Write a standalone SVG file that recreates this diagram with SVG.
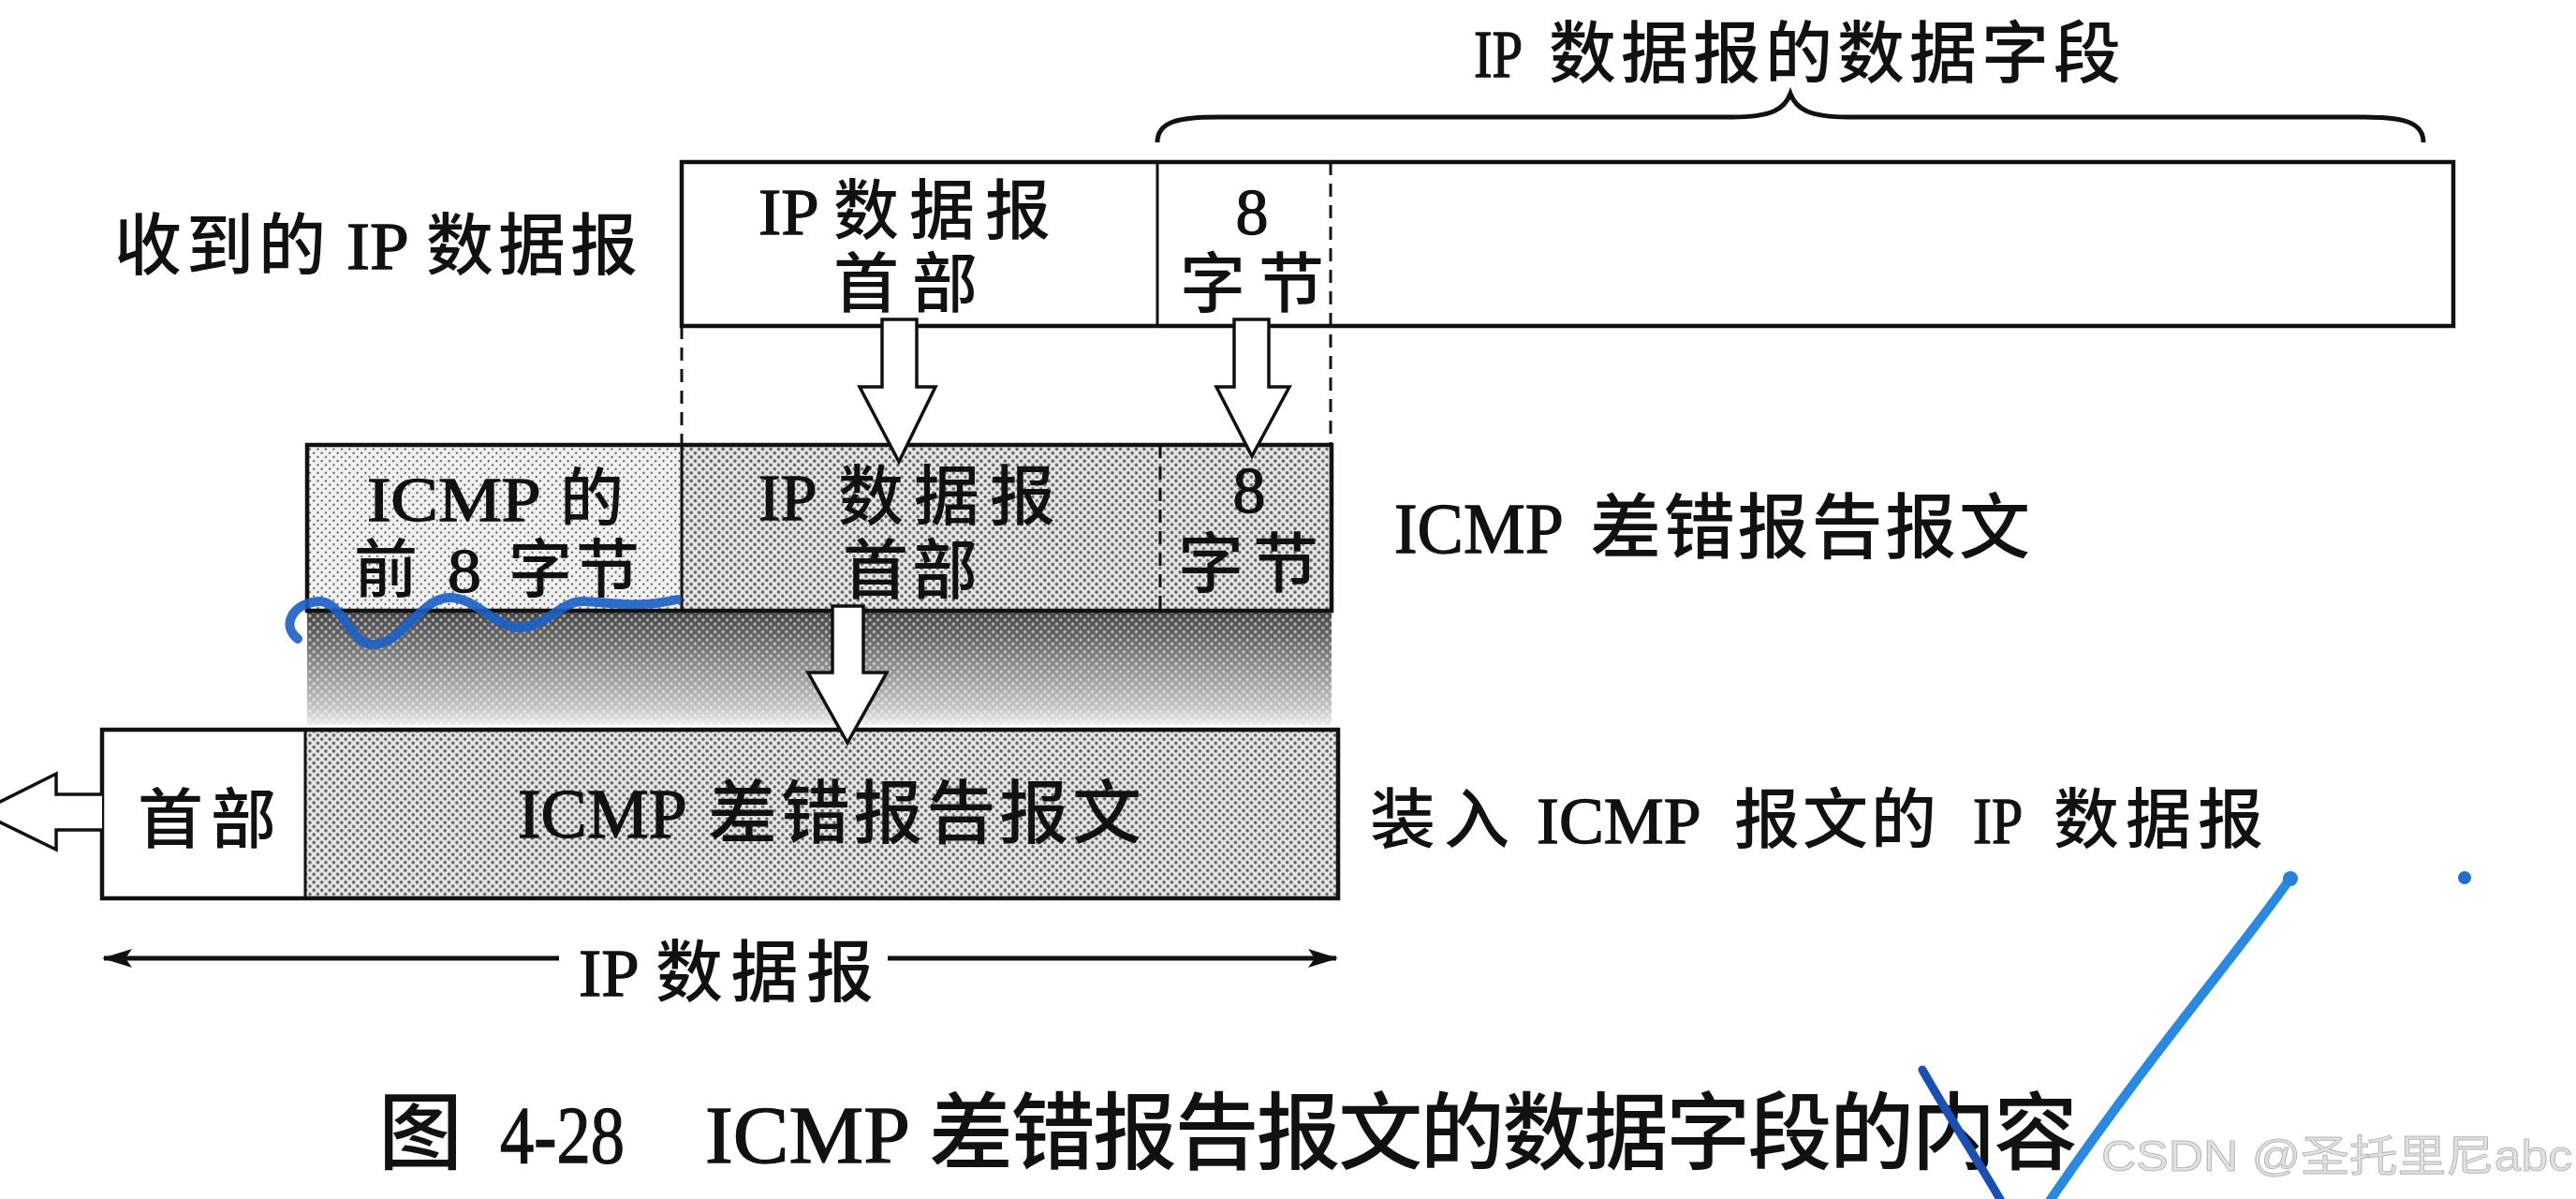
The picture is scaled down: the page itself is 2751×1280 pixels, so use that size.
<svg xmlns="http://www.w3.org/2000/svg" width="2751" height="1280" viewBox="0 0 2751 1280">
<style>
  text{font-family:"Liberation Serif","Noto Sans CJK SC",serif;fill:#111;font-weight:500}
  .lt{stroke:#111;stroke-width:1.3}
  .box{fill:none;stroke:#111;stroke-width:4.5}
  .div{stroke:#111;stroke-width:3}
  .dash{stroke:#111;stroke-width:3;stroke-dasharray:14 9;fill:none}
  .hollow{fill:#fff;stroke:#111;stroke-width:3.5;stroke-linejoin:miter}
  .dim{stroke:#111;stroke-width:5;fill:none}
  .blue{fill:none;stroke-linecap:round;stroke-linejoin:round}
</style>
<defs>
  <pattern id="dotsLight" width="6" height="6" patternUnits="userSpaceOnUse" patternTransform="rotate(45)">
    <rect width="6" height="6" fill="#f2f2f2"/>
    <circle cx="3" cy="3" r="1.2" fill="#666"/>
  </pattern>
  <pattern id="dotsMid" width="6" height="6" patternUnits="userSpaceOnUse" patternTransform="rotate(45)">
    <rect width="6" height="6" fill="#e8e8e8"/>
    <circle cx="3" cy="3" r="1.8" fill="#555"/>
  </pattern>
  <pattern id="dotsWhite" width="6" height="6" patternUnits="userSpaceOnUse" patternTransform="rotate(45)">
    <circle cx="3" cy="3" r="1.7" fill="#fff" fill-opacity="0.6"/>
  </pattern>
  <linearGradient id="shadeGrad" x1="0" y1="0" x2="0" y2="1">
    <stop offset="0" stop-color="#404040"/>
    <stop offset="0.45" stop-color="#878787"/>
    <stop offset="0.85" stop-color="#c4c4c4"/>
    <stop offset="1" stop-color="#ececec"/>
  </linearGradient>
  <marker id="ah" viewBox="0 0 32 20" refX="30" refY="10" markerWidth="32" markerHeight="20" markerUnits="userSpaceOnUse" orient="auto">
    <path d="M0,0 L32,10 L0,20 L7,10 z" fill="#111"/>
  </marker>
</defs>

<rect width="2751" height="1280" fill="#fff"/>

<!-- brace + label for the data field -->
<g id="data-field-label">
  <path d="M1236,152 C1236,130 1258,125 1300,125 L1850,125 C1893,125 1906,116 1912,100 C1918,116 1931,125 1974,125 L2524,125 C2566,125 2588,130 2588,152" fill="none" stroke="#111" stroke-width="5"/>
  <text y="82" font-size="72"><tspan class="lt" x="1574" textLength="50" lengthAdjust="spacingAndGlyphs">IP</tspan> <tspan x="1654" textLength="611" lengthAdjust="spacing">数据报的数据字段</tspan></text>
</g>

<g id="received-label">
  <text y="287" font-size="72"><tspan x="122" textLength="226" lengthAdjust="spacing">收到的</tspan> <tspan class="lt" x="370" textLength="64" lengthAdjust="spacingAndGlyphs">IP</tspan> <tspan x="455" textLength="226" lengthAdjust="spacing">数据报</tspan></text>
</g>

<!-- received IP datagram -->
<g id="received-datagram">
  <rect x="728" y="173" width="1892" height="175" fill="#fff"/>
  <rect class="box" x="728" y="173" width="1892" height="175"/>
  <line class="div" x1="1236" y1="173" x2="1236" y2="348"/>
  <text y="250" font-size="70"><tspan class="lt" x="810" textLength="62" lengthAdjust="spacingAndGlyphs">IP</tspan> <tspan x="890" textLength="232" lengthAdjust="spacing">数据报</tspan></text>
  <text x="890" y="328" font-size="70" textLength="154" lengthAdjust="spacing">首部</text>
  <text x="1337" y="250" font-size="70" text-anchor="middle"><tspan class="lt">8</tspan></text>
  <text x="1260" y="328" font-size="70" textLength="154" lengthAdjust="spacing">字节</text>
</g>

<!-- shading below the ICMP message -->
<g id="shadow">
  <rect x="328" y="652" width="1094" height="122" fill="url(#shadeGrad)"/>
  <rect x="328" y="652" width="1094" height="122" fill="url(#dotsWhite)"/>
</g>

<!-- ICMP error report message -->
<g id="icmp-error-message">
  <rect x="328" y="475" width="400" height="177" fill="url(#dotsLight)"/>
  <rect x="728" y="475" width="694" height="177" fill="url(#dotsMid)"/>
  <rect class="box" x="328" y="475" width="1094" height="177"/>
  <line class="div" x1="728" y1="475" x2="728" y2="652"/>
  <line class="dash" x1="1239" y1="475" x2="1239" y2="652"/>
  <text y="556" font-size="68"><tspan class="lt" x="392" textLength="183" lengthAdjust="spacingAndGlyphs">ICMP</tspan> <tspan x="598">的</tspan></text>
  <text y="632" font-size="68"><tspan x="378">前</tspan> <tspan class="lt" x="478" textLength="36" lengthAdjust="spacingAndGlyphs">8</tspan> <tspan x="543" textLength="140" lengthAdjust="spacing">字节</tspan></text>
  <text y="555" font-size="70"><tspan class="lt" x="810" textLength="60" lengthAdjust="spacingAndGlyphs">IP</tspan> <tspan x="895" textLength="232" lengthAdjust="spacing">数据报</tspan></text>
  <text x="900" y="634" font-size="70" textLength="144" lengthAdjust="spacing">首部</text>
  <text x="1334" y="547" font-size="70" text-anchor="middle"><tspan class="lt">8</tspan></text>
  <text x="1258" y="627" font-size="70" textLength="150" lengthAdjust="spacing">字节</text>
</g>

<g id="icmp-message-label">
  <text y="590" font-size="76"><tspan class="lt" x="1489" textLength="178" lengthAdjust="spacingAndGlyphs">ICMP</tspan> <tspan x="1698" textLength="470" lengthAdjust="spacing">差错报告报文</tspan></text>
</g>

<!-- IP datagram carrying the ICMP message -->
<g id="icmp-ip-datagram">
  <rect x="109" y="779" width="217" height="180" fill="#fff"/>
  <rect x="326" y="779" width="1103" height="180" fill="url(#dotsMid)"/>
  <rect class="box" x="109" y="779" width="1320" height="180"/>
  <line class="div" x1="326" y1="779" x2="326" y2="959"/>
  <text x="147" y="900" font-size="70" textLength="148" lengthAdjust="spacing">首部</text>
  <text y="894" font-size="74"><tspan class="lt" x="553" textLength="178" lengthAdjust="spacingAndGlyphs">ICMP</tspan> <tspan x="756" textLength="463" lengthAdjust="spacing">差错报告报文</tspan></text>
</g>

<g id="icmp-ip-datagram-label">
  <text y="900" font-size="70"><tspan x="1463" textLength="149" lengthAdjust="spacing">装入</tspan> <tspan class="lt" x="1641" textLength="173" lengthAdjust="spacingAndGlyphs">ICMP</tspan> <tspan x="1852" textLength="216" lengthAdjust="spacing">报文的</tspan> <tspan class="lt" x="2107" textLength="51" lengthAdjust="spacingAndGlyphs">IP</tspan> <tspan x="2193" textLength="224" lengthAdjust="spacing">数据报</tspan></text>
</g>

<!-- connectors -->
<g id="connectors">
  <line class="dash" x1="1421" y1="173" x2="1421" y2="475"/>
  <line class="dash" x1="728" y1="348" x2="728" y2="475"/>
  <polygon class="hollow" points="942,341 979,341 979,413 999,413 960,493 918,413 942,413"/>
  <polygon class="hollow" points="1318,341 1355,341 1355,413 1377,413 1337,487 1299,413 1318,413"/>
  <polygon class="hollow" points="889,647 922,647 922,718 947,718 905,793 863,718 889,718"/>
  <polyline class="hollow" points="109,848 60,848 60,826 -22,867 60,907 60,886 109,886"/>
  <line class="dim" x1="597" y1="1023" x2="111" y2="1023" marker-end="url(#ah)"/>
  <line class="dim" x1="948" y1="1023" x2="1427" y2="1023" marker-end="url(#ah)"/>
  <text y="1063" font-size="72"><tspan class="lt" x="618" textLength="62" lengthAdjust="spacingAndGlyphs">IP</tspan> <tspan x="700" textLength="233" lengthAdjust="spacing">数据报</tspan></text>
</g>

<!-- caption -->
<g id="caption">
  <text y="1241" font-size="90"><tspan x="404">图</tspan> <tspan class="lt" style="font-size:0.96em" x="534" textLength="133" lengthAdjust="spacingAndGlyphs">4-28</tspan></text>
  <text y="1241" font-size="90"><tspan class="lt" style="font-size:0.96em" x="753" textLength="219" lengthAdjust="spacingAndGlyphs">ICMP</tspan> <tspan x="992" textLength="1227" lengthAdjust="spacing">差错报告报文的数据字段的内容</tspan></text>
</g>

<!-- hand-drawn marks and watermark -->
<g id="annotations">
  <path class="blue" d="M318,682 C300,668 312,644 340,642 C366,641 374,690 400,688 C430,686 450,638 480,638 C510,638 530,672 557,670 C585,668 600,641 623,642 C652,643 680,650 723,640" stroke="#1b5fc6" stroke-width="10" stroke-opacity="0.9"/>
  <path class="blue" d="M2053,1142 C2080,1190 2110,1235 2137,1282" stroke="#1a4fb4" stroke-width="9"/>
  <path class="blue" d="M2447,936 C2400,1005 2300,1120 2189,1282" stroke="#2a8ae2" stroke-width="10"/>
  <circle cx="2446" cy="938" r="8" fill="#2a7fd8"/>
  <circle cx="2632" cy="937" r="7" fill="#1e6fd0"/>
  <text x="2244" y="1250" font-size="46" textLength="503" lengthAdjust="spacingAndGlyphs" style="font-family:'Liberation Sans','Noto Sans CJK SC',sans-serif;font-weight:400;fill:#e2e2e2;stroke:#b8b8b8;stroke-width:1">CSDN @圣托里尼abc</text>
</g>
</svg>
